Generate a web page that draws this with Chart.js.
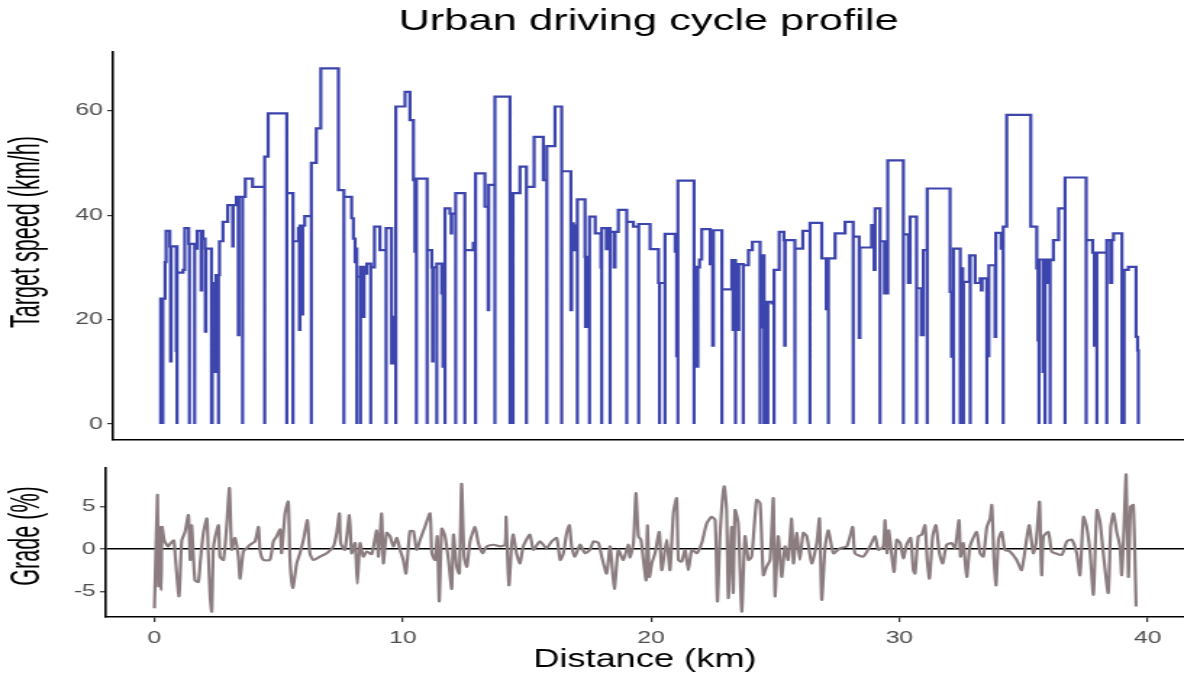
<!DOCTYPE html>
<html>
<head>
<meta charset="utf-8">
<title>Urban driving cycle profile</title>
<script src="https://cdn.jsdelivr.net/npm/chart.js@4.4.0/dist/chart.umd.min.js"></script>
<style>
  html, body { margin: 0; padding: 0; background: #fff; overflow: hidden; }
  #wrap { position: relative; width: 1184px; height: 673px; }
  /* charts are laid out on a narrower canvas and widened, like the original export */
  canvas { position: absolute; left: 0; transform-origin: 0 0; transform: scaleX(1.4492); }
  #speedChart { top: 0; }
  #gradeChart { top: 446px; }
</style>
</head>
<body>
<div id="wrap">
  <canvas id="speedChart" width="817" height="446"></canvas>
  <canvas id="gradeChart" width="817" height="227"></canvas>
</div>
<script>
// tick values
const speedTicks = [0, 20, 40, 60];
const gradeTicks = [-5, 0, 5];
const distanceTicks = [0, 10, 20, 30, 40];

// target speed: step starts (km) and speed held from there (km/h); 0 = stop
const speedKm = [
  0.25, 0.25, 0.29, 0.31, 0.34, 0.34, 0.43, 0.47, 0.62, 0.65,
  0.67, 0.88, 0.89, 0.91, 0.91, 1.15, 1.22, 1.38, 1.41, 1.41,
  1.62, 1.62, 1.72, 1.88, 1.90, 1.95, 2.04, 2.05, 2.07, 2.30,
  2.30, 2.33, 2.33, 2.46, 2.48, 2.58, 2.58, 2.62, 2.76, 2.95,
  3.15, 3.17, 3.30, 3.38, 3.40, 3.55, 3.55, 3.66, 3.95, 4.44,
  4.44, 4.58, 5.33, 5.33, 5.58, 5.58, 5.80, 5.84, 5.86, 5.95,
  5.97, 6.05, 6.32, 6.32, 6.52, 6.70, 7.41, 7.63, 7.63, 7.94,
  8.01, 8.08, 8.10, 8.15, 8.15, 8.30, 8.30, 8.42, 8.44, 8.55,
  8.71, 8.71, 8.86, 9.08, 9.33, 9.33, 9.55, 9.60, 9.67, 9.72,
  9.72, 10.09, 10.29, 10.43, 10.49, 10.51, 10.55, 10.55, 10.98, 10.98,
  11.17, 11.20, 11.22, 11.37, 11.37, 11.57, 11.62, 11.66, 11.70, 11.70,
  11.90, 11.95, 11.97, 12.13, 12.13, 12.50, 12.50, 12.84, 12.93, 12.93,
  13.31, 13.44, 13.46, 13.71, 13.71, 14.32, 14.32, 14.38, 14.38, 14.44,
  14.44, 14.72, 14.98, 14.98, 15.29, 15.66, 15.80, 15.80, 16.13, 16.40,
  16.40, 16.77, 16.80, 16.87, 16.95, 17.03, 17.03, 17.34, 17.36, 17.40,
  17.52, 17.52, 17.75, 17.98, 18.01, 18.01, 18.20, 18.23, 18.35, 18.35,
  18.51, 18.55, 18.68, 19.02, 19.02, 19.29, 19.50, 19.50, 19.96, 20.30,
  20.34, 20.34, 20.56, 20.56, 20.97, 21.03, 21.08, 21.08, 21.73, 21.73,
  21.86, 21.88, 21.95, 22.04, 22.38, 22.48, 22.51, 22.85, 22.85, 23.25,
  23.30, 23.33, 23.40, 23.40, 23.50, 23.53, 23.71, 23.71, 23.92, 24.08,
  24.39, 24.39, 24.47, 24.50, 24.55, 24.55, 24.62, 24.62, 24.70, 24.70,
  24.86, 24.95, 24.95, 25.16, 25.35, 25.38, 25.40, 25.79, 25.79, 26.11,
  26.40, 26.40, 26.87, 27.05, 27.08, 27.14, 27.14, 27.41, 27.81, 28.14,
  28.14, 28.38, 28.41, 28.88, 28.98, 29.02, 29.22, 29.22, 29.40, 29.53,
  30.16, 30.16, 30.36, 30.43, 30.69, 30.69, 30.88, 30.96, 31.12, 31.12,
  32.04, 32.10, 32.14, 32.18, 32.18, 32.45, 32.45, 32.55, 32.58, 32.58,
  32.82, 32.85, 32.85, 33.05, 33.25, 33.30, 33.33, 33.52, 33.52, 33.60,
  33.85, 33.88, 34.10, 34.18, 34.18, 34.32, 35.29, 35.53, 35.58, 35.62,
  35.62, 35.78, 35.80, 35.86, 35.86, 35.98, 36.03, 36.07, 36.07, 36.20,
  36.41, 36.67, 36.67, 37.52, 37.52, 37.78, 37.85, 37.88, 37.95, 37.95,
  38.35, 38.35, 38.50, 38.55, 38.62, 38.96, 38.96, 39.05, 39.05, 39.22,
  39.53, 39.59, 39.62
];
const speedKmh = [
  0, 24, 10, 24, 0, 24, 31, 37, 34, 12,
  34, 14, 34, 0, 29, 29.5, 37.5, 34.5, 0, 34.5,
  0, 33.6, 37, 25.6, 37, 35.5, 33.6, 17.7, 33.6, 0,
  20, 0, 27, 10, 28.5, 0, 28.5, 35, 38.7, 41.9,
  34, 41.9, 43.5, 17, 43.5, 0, 43.5, 47, 45.4, 0,
  51.2, 59.5, 0, 44.2, 0, 35, 37.5, 18, 38, 21,
  38, 39.8, 0, 50, 56.6, 68.1, 44.8, 0, 43.5, 39.4,
  35.5, 31, 33.6, 0, 28.2, 0, 30.1, 20.5, 28.8, 30.7,
  0, 30, 37.8, 33.3, 0, 37.5, 11.6, 20.5, 12.9, 0,
  60.8, 63.6, 58.2, 46.7, 33, 46.7, 0, 47, 0, 33.3,
  30, 12, 30, 0, 30.7, 25, 11, 28, 0, 41.3,
  40.3, 36.5, 40.3, 0, 44.2, 0, 33.3, 34.7, 0, 48,
  41.6, 21.8, 45.8, 0, 62.7, 0, 20, 0, 25, 0,
  44.2, 49.3, 0, 45.4, 55, 46.7, 0, 53.2, 60.8, 0,
  48.4, 21.8, 38.4, 33.3, 38, 0, 43, 32, 18.6, 32,
  0, 39.7, 36.5, 30, 0, 37.5, 33.5, 37.5, 0, 36.8,
  30, 36.8, 41, 0, 38.7, 37.8, 0, 38.3, 33.5, 27,
  0, 27, 0, 36.4, 33, 13, 0, 46.6, 0, 30.1,
  11, 30, 31.5, 37.3, 30.6, 15, 37.1, 0, 25.8, 31.4,
  18, 31.4, 0, 30.6, 18, 30.6, 0, 30.4, 33.3, 34.9,
  0, 32.3, 18.5, 32.3, 0, 23, 0, 23.4, 0, 23.4,
  23.1, 0, 29.5, 36.8, 35.2, 15, 35.2, 0, 33.6, 37,
  0, 38.5, 31.7, 22, 31.7, 0, 31.7, 36.5, 38.7, 0,
  35.9, 16.5, 33.8, 38.1, 29.5, 41.3, 0, 35, 25, 50.5,
  0, 36.3, 27, 39.7, 0, 26, 17, 33.3, 0, 45.1,
  25.3, 12.9, 25, 0, 33.6, 0, 29.8, 15.1, 0, 27.2,
  32.3, 0, 32.3, 27, 27.9, 25.6, 27.9, 0, 13, 30.4,
  16.7, 36.6, 33.6, 0, 37.8, 59.2, 37.8, 29.8, 16, 0,
  31.5, 10, 31.5, 0, 31.5, 27, 31.5, 0, 31.4, 35.2,
  41.3, 0, 47.2, 0, 35.2, 32.8, 15, 32.8, 0, 32.8,
  0, 35.2, 27, 35.2, 36.5, 0, 28.3, 0, 29.5, 30.1,
  16.7, 14.1, 0
];

// road grade along the route
const gradeKm = [
  0.00, 0.12, 0.16, 0.20, 0.27, 0.31, 0.40, 0.55, 0.63, 0.78,
  0.85, 0.99, 1.10, 1.23, 1.37, 1.44, 1.50, 1.63, 1.77, 1.84,
  1.97, 2.11, 2.17, 2.24, 2.31, 2.37, 2.44, 2.58, 2.64, 2.78,
  2.91, 3.02, 3.11, 3.24, 3.38, 3.45, 3.58, 3.72, 3.85, 4.05,
  4.19, 4.25, 4.39, 4.65, 4.79, 4.92, 5.06, 5.12, 5.26, 5.39,
  5.46, 5.57, 5.73, 5.86, 6.00, 6.16, 6.26, 6.40, 6.67, 6.94,
  7.21, 7.34, 7.45, 7.50, 7.67, 7.85, 7.94, 8.08, 8.17, 8.28,
  8.41, 8.55, 8.75, 8.95, 9.02, 9.15, 9.22, 9.35, 9.49, 9.62,
  9.76, 9.89, 10.02, 10.13, 10.29, 10.43, 10.56, 10.70, 10.89, 11.10,
  11.17, 11.30, 11.39, 11.47, 11.57, 11.70, 11.84, 11.97, 12.04, 12.17,
  12.28, 12.37, 12.47, 12.58, 12.71, 12.91, 13.04, 13.22, 13.38, 13.65,
  13.92, 14.12, 14.16, 14.23, 14.28, 14.39, 14.45, 14.58, 14.72, 14.85,
  15.12, 15.26, 15.52, 15.79, 16.00, 16.20, 16.34, 16.47, 16.60, 16.71,
  16.80, 16.93, 17.14, 17.34, 17.54, 17.68, 17.88, 18.01, 18.21, 18.35,
  18.52, 18.68, 18.88, 19.08, 19.15, 19.29, 19.39, 19.49, 19.59, 19.69,
  19.80, 19.85, 19.93, 20.03, 20.16, 20.33, 20.43, 20.63, 20.76, 20.90,
  21.03, 21.10, 21.23, 21.37, 21.50, 21.64, 21.84, 22.04, 22.24, 22.44,
  22.58, 22.67, 22.78, 22.94, 23.04, 23.11, 23.24, 23.31, 23.38, 23.51,
  23.65, 23.78, 23.92, 24.05, 24.25, 24.39, 24.52, 24.65, 24.79, 24.92,
  24.99, 25.12, 25.26, 25.39, 25.52, 25.66, 25.73, 25.86, 25.99, 26.13,
  26.27, 26.47, 26.67, 26.78, 26.87, 27.01, 27.14, 27.34, 27.61, 27.88,
  28.12, 28.21, 28.54, 28.81, 29.02, 29.15, 29.35, 29.42, 29.50, 29.57,
  29.78, 29.89, 30.03, 30.16, 30.29, 30.45, 30.56, 30.63, 30.76, 30.90,
  31.03, 31.12, 31.21, 31.34, 31.47, 31.61, 31.74, 31.90, 32.10, 32.24,
  32.40, 32.46, 32.57, 32.71, 32.84, 33.11, 33.25, 33.38, 33.52, 33.65,
  33.72, 33.81, 33.89, 33.99, 34.12, 34.25, 34.45, 34.72, 34.92, 35.12,
  35.23, 35.39, 35.50, 35.64, 35.70, 35.73, 35.80, 36.00, 36.13, 36.27,
  36.54, 36.74, 36.94, 37.14, 37.27, 37.41, 37.54, 37.68, 37.81, 37.95,
  38.08, 38.21, 38.41, 38.51, 38.62, 38.75, 38.88, 38.95, 39.04, 39.13,
  39.22, 39.31, 39.42, 39.53
];
const gradePct = [
  -7.0, 6.4, -4.4, 2.6, -4.9, 2.6, 1.0, 0.3, 0.6, 1.0,
  -1.3, -5.6, 1.0, 2.0, 4.0, -1.3, 2.8, -3.7, -3.9, -1.7,
  1.9, 3.6, -0.5, -5.6, -7.4, -0.1, 1.3, 2.8, -0.9, -1.3,
  2.8, 7.2, -0.1, 1.3, -0.9, -3.5, -0.3, 0.1, 0.5, 0.9,
  2.6, -0.1, -1.3, -1.3, 0.9, 1.5, 2.3, -0.5, 4.2, 5.6,
  -1.3, -4.6, -1.7, -0.5, 1.1, 3.4, -0.5, -1.3, -0.9, -0.5,
  0.3, 1.9, 4.2, 0.7, -0.1, 4.0, -0.5, 0.7, -4.1, 0.7,
  -0.9, -0.3, -0.6, 2.2, -0.9, 4.2, -1.7, 1.9, 1.5, 0.3,
  1.3, -0.1, -1.3, -2.9, 2.1, 2.1, -0.1, 1.1, 2.6, 4.2,
  -0.5, -1.3, 1.5, -6.2, 2.4, 1.5, -1.3, -4.7, 1.7, -2.1,
  -2.9, 7.7, -0.9, -2.1, 0.9, 2.6, 0.7, -0.5, 0.3, 0.5,
  0.3, 0.5, 3.8, -1.7, -4.3, 0.7, 1.7, -0.5, -1.7, 0.3,
  1.7, -0.1, 0.9, 0.1, 0.9, 1.3, -1.3, -0.5, 1.9, 2.8,
  0.3, -0.9, 0.5, -0.5, -0.1, 0.9, 0.7, -0.9, -2.9, 0.3,
  -4.7, -0.1, -1.3, 0.5, -1.0, 0.7, 6.6, 1.5, 1.1, -1.3,
  -3.7, 2.8, -3.3, -1.7, -0.5, 2.0, -2.5, 1.1, -2.5, 4.3,
  6.0, -1.3, -1.5, -0.1, -2.5, -0.1, -0.5, 0.7, 3.0, 3.8,
  3.4, -6.2, 1.9, 7.4, 4.6, -5.8, 2.6, -5.2, 4.6, 3.0,
  -7.4, 1.5, -1.3, -0.9, 5.8, 5.4, -3.1, -2.1, -1.3, 6.0,
  -5.6, 1.5, -3.3, 0.3, -1.3, 3.6, -1.7, 1.9, -1.3, 1.9,
  1.5, -1.7, 0.7, 3.6, -6.0, 0.3, 2.2, -0.5, 0.1, 0.3,
  2.6, -0.5, -0.9, 0.3, 1.5, -0.1, 0.3, 3.4, -0.5, 2.2,
  -2.7, 1.1, 0.7, -1.1, 0.5, 1.3, -2.5, -2.9, 1.5, 1.7,
  2.8, -1.3, -3.5, 1.5, 2.8, -0.5, -1.7, 0.5, 0.7, 0.1,
  3.4, -0.9, 0.7, -3.3, 0.3, 2.0, -0.5, -0.9, 2.6, 3.6,
  5.2, -1.3, -4.3, 1.1, 2.0, -0.1, -0.3, -1.3, -2.5, 1.1,
  2.8, -0.5, 0.7, 5.6, -1.3, -3.1, 1.5, 2.0, -0.3, -0.5,
  -0.7, 0.9, 1.1, -0.5, -3.1, 3.8, 2.6, -0.5, -5.4, 4.6,
  3.2, -0.5, -5.2, 2.6, 4.2, 2.0, 0.3, -3.1, 2.2, 8.8,
  -3.3, 5.0, 5.2, -6.8
];

const FONT = "'Liberation Sans', Arial, Helvetica, sans-serif";
const TICK_INK = '#4d4d4d';

// pin tick positions and box sizes so both panels line up
const fixedTicks = values => scale => {
  scale.ticks = values.map(v => ({ value: v }));
};
const fixedSize = (prop, size) => scale => {
  scale[prop] = size;
  scale.paddingTop = 0;
  scale.paddingBottom = 0;
  scale.paddingLeft = 0;
  scale.paddingRight = 0;
};

// rotated y-axis title in a tall, narrow face
const narrowYTitle = {
  id: 'narrowYTitle',
  afterDraw(chart, args, opts) {
    const ctx = chart.ctx;
    ctx.save();
    ctx.translate(opts.x, opts.y);
    ctx.rotate(-Math.PI / 2);
    ctx.scale(opts.squeeze, 1);
    ctx.font = opts.size + 'px ' + FONT;
    ctx.fillStyle = '#000';
    ctx.textAlign = 'center';
    ctx.textBaseline = 'middle';
    ctx.fillText(opts.text, 0, 0);
    ctx.restore();
  }
};

const tickFont = { family: FONT, size: 17 };

// speed profile
new Chart(document.getElementById('speedChart'), {
  type: 'line',
  data: {
    datasets: [{
      data: speedKm.map((d, i) => ({ x: d, y: speedKmh[i] })),
      borderColor: '#3c44ad',
      borderWidth: 2.2,
      pointRadius: 0,
      stepped: 'before',
      fill: false
    }]
  },
  plugins: [narrowYTitle],
  options: {
    responsive: false,
    animation: false,
    devicePixelRatio: 1,
    layout: { padding: 0 },
    plugins: {
      legend: { display: false },
      tooltip: { enabled: false },
      title: {
        display: true,
        text: 'Urban driving cycle profile',
        fullSize: false,
        color: '#000',
        font: { family: FONT, size: 30, weight: 'normal', lineHeight: 1.2 },
        padding: { top: 4, bottom: 11.6 }
      },
      narrowYTitle: { text: 'Target speed (km/h)', x: 19, y: 232, size: 30, squeeze: 0.72 }
    },
    scales: {
      x: {
        type: 'linear',
        min: -1.666,
        max: 41.46,
        grid: { display: false },
        ticks: { display: false },
        border: { display: true, color: '#000', width: 1.6 },
        afterFit: fixedSize('height', 6)
      },
      y: {
        min: -3.06,
        max: 71.31,
        afterBuildTicks: fixedTicks(speedTicks),
        ticks: { color: TICK_INK, font: tickFont, padding: 3 },
        grid: { drawOnChartArea: false, drawTicks: true, tickLength: 4, color: '#333', lineWidth: 1.2 },
        border: { display: true, color: '#000', width: 1.6 },
        afterFit: fixedSize('width', 78)
      }
    }
  }
});

// grade profile
new Chart(document.getElementById('gradeChart'), {
  type: 'line',
  data: {
    datasets: [{
      data: gradeKm.map((d, i) => ({ x: d, y: gradePct[i] })),
      borderColor: '#8a7c7f',
      borderWidth: 2.2,
      pointRadius: 0,
      tension: 0.2,
      fill: false
    }]
  },
  plugins: [narrowYTitle],
  options: {
    responsive: false,
    animation: false,
    devicePixelRatio: 1,
    layout: { padding: { top: 22, left: 0, right: 0, bottom: 0 } },
    plugins: {
      legend: { display: false },
      tooltip: { enabled: false },
      title: { display: false },
      narrowYTitle: { text: 'Grade (%)', x: 19, y: 90, size: 30, squeeze: 0.72 }
    },
    scales: {
      x: {
        type: 'linear',
        min: -1.958,
        max: 41.46,
        afterBuildTicks: fixedTicks(distanceTicks),
        ticks: { color: TICK_INK, font: tickFont, padding: 6 },
        grid: { drawOnChartArea: false, drawTicks: true, tickLength: 5, color: '#333', lineWidth: 1.2 },
        border: { display: true, color: '#000', width: 1.6 },
        title: {
          display: true,
          text: 'Distance (km)',
          color: '#000',
          font: { family: FONT, size: 25, lineHeight: 1 },
          padding: { top: 0, bottom: 0 }
        },
        afterFit: fixedSize('height', 56)
      },
      y: {
        min: -8.04,
        max: 9.57,
        z: 1,
        afterBuildTicks: fixedTicks(gradeTicks),
        ticks: { color: TICK_INK, font: tickFont, padding: 3 },
        grid: {
          drawOnChartArea: true,
          drawTicks: true,
          tickLength: 4,
          lineWidth: 1.5,
          tickWidth: 1.2,
          tickColor: '#333',
          color: ctx => (ctx.tick && ctx.tick.value === 0 ? '#000' : 'rgba(0,0,0,0)')
        },
        border: { display: true, color: '#000', width: 1.6 },
        afterFit: fixedSize('width', 73)
      }
    }
  }
});
</script>
</body>
</html>
